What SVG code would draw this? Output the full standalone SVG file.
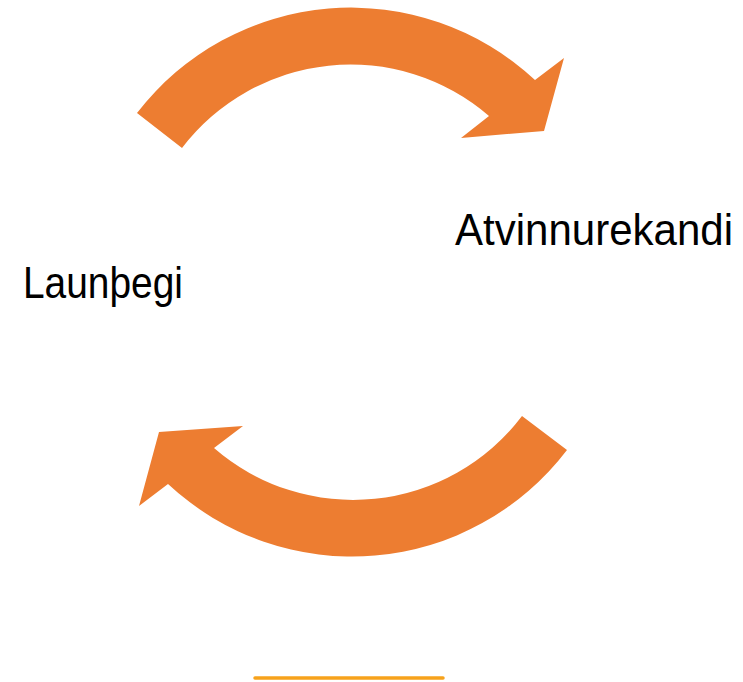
<svg xmlns="http://www.w3.org/2000/svg" width="743" height="682" viewBox="0 0 743 682">
  <style>
    .arrow { fill: #ED7D31; stroke: none; }
    .label { font-family: "Liberation Sans", Arial, sans-serif; font-size: 44px; fill: #000000; }
  </style>
  <rect width="743" height="682" fill="#FFFFFF"/>
  <g id="connectors">
    <path id="arrow-top" class="arrow" d="M 137,113 A 270 270 0 0 1 535,80 L 564,58 L 544,131 L 461,138 L 489,116 A 212 212 0 0 0 182,148 Z"/>
    <path id="arrow-bottom" class="arrow" d="M 567,450 A 270 270 0 0 1 168,484 L 139,506 L 159,432 L 243,426 L 214,448 A 212 212 0 0 0 522,416 Z"/>
  </g>
  <g id="node-atvinnurekandi">
    <text class="label" x="455" y="245" textLength="278" lengthAdjust="spacingAndGlyphs">Atvinnurekandi</text>
  </g>
  <g id="node-launthegi">
    <text class="label" x="23" y="298" textLength="160" lengthAdjust="spacingAndGlyphs">Launþegi</text>
  </g>
  <line x1="255" y1="678" x2="443" y2="678" stroke="#F7A21B" stroke-width="3.5" stroke-linecap="round"/>
</svg>
